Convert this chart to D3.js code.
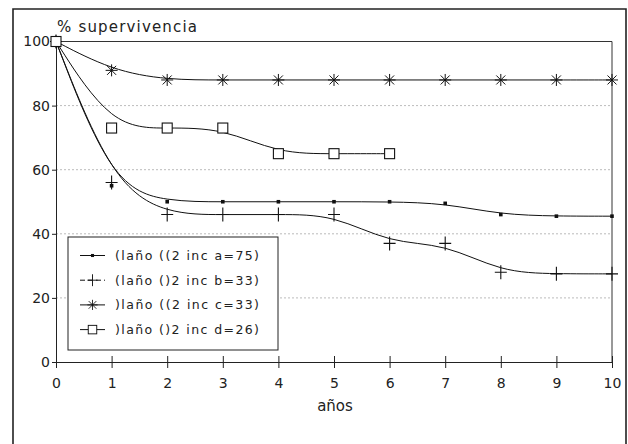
<!DOCTYPE html>
<html>
<head>
<meta charset="utf-8">
<script src="https://cdn.jsdelivr.net/npm/d3@7"></script>
<style>
  body { margin: 0; background: #fff; }
  svg { display: block; }
  text { font-family: "DejaVu Sans", sans-serif; fill: #222; }
</style>
</head>
<body>
<div class="main"></div>
<script>
const years = [0, 1, 2, 3, 4, 5, 6, 7, 8, 9, 10];
const serieA = [100, 55, 50, 50, 50, 50, 50, 49.5, 46, 45.5, 45.5];
const serieB = [100, 56, 46, 46, 46, 46, 37, 37, 28, 27.5, 27.5];
const serieC = [100, 91, 88, 88, 88, 88, 88, 88, 88, 88, 88];
const serieD = [100, 73, 73, 73, 65, 65, 65];
const legendLabels = [
    "(laño ((2 inc a=75)",
    "(laño ()2 inc b=33)",
    ")laño ((2 inc c=33)",
    ")laño ()2 inc d=26)"
];
const yTicks = [0, 20, 40, 60, 80, 100];
const yTitle = "% supervivencia";
const xTitle = "años";

const w = 628;
const h = 444;

const svg = d3.select(".main").append("svg").attr("width", w).attr("height", h);

// outer frame (open at the bottom)
svg.append("path")
    .attr("d", "M13,444V9H626V444")
    .attr("fill", "none")
    .attr("stroke", "#222")
    .attr("stroke-width", 1.6);

const xScale = d3.scaleLinear().domain([0, 10]).range([56, 612]);
const yScale = d3.scaleLinear().domain([0, 100]).range([362, 41.5]);

// grid lines
svg.append("g")
    .selectAll("line")
    .data(yTicks.filter((d) => d > 0 && d < 100))
    .join("line")
    .attr("x1", xScale(0))
    .attr("x2", xScale(10))
    .attr("y1", (d) => yScale(d))
    .attr("y2", (d) => yScale(d))
    .attr("stroke", "#aaa")
    .attr("stroke-width", 0.8)
    .attr("stroke-dasharray", "2,2");

// top and right of the plot box
svg.append("path")
    .attr("d", `M${xScale(0)},${yScale(100)}H${xScale(10)}V${yScale(0)}`)
    .attr("fill", "none")
    .attr("stroke", "#333")
    .attr("stroke-width", 1);

// axes
const yAxis = d3.axisLeft(yScale).tickValues(yTicks).tickSizeInner(4).tickSizeOuter(0).tickPadding(2);
const gy = svg.append("g").attr("transform", `translate(${xScale(0)},0)`).call(yAxis);
gy.selectAll("text").style("font-size", "14px").style("font-family", "DejaVu Sans").attr("fill", "#444");
gy.selectAll("path, line").attr("stroke", "#222");

const xAxis = d3.axisBottom(xScale).tickValues(years).tickSizeInner(6).tickSizeOuter(0).tickFormat(d3.format("d"));
const gx = svg.append("g").attr("transform", `translate(0,${yScale(0)})`).call(xAxis);
gx.selectAll(".tick line").attr("y1", -6).attr("stroke", "#222");
gx.select(".domain").attr("stroke", "#222");
gx.selectAll("text").attr("y", 16).style("font-size", "14px").style("font-family", "DejaVu Sans").attr("fill", "#444");

svg.append("text")
    .attr("x", 57)
    .attr("y", 32)
    .attr("textLength", 140)
    .attr("lengthAdjust", "spacing")
    .style("font-size", "15px")
    .text(yTitle);

svg.append("text")
    .attr("x", 335)
    .attr("y", 411)
    .attr("text-anchor", "middle")
    .style("font-size", "15px")
    .text(xTitle);

// curves
const line = d3.line()
    .x((d, i) => xScale(years[i]))
    .y((d) => yScale(d))
    .curve(d3.curveBasis);

const series = [serieA, serieB, serieC, serieD];
svg.append("g")
    .selectAll("path")
    .data(series)
    .join("path")
    .attr("d", (d) => line(d))
    .attr("fill", "none")
    .attr("stroke", "#111")
    .attr("stroke-width", 1);

// marker shapes
const markers = [
    (g) => g.append("rect").attr("x", -1.8).attr("y", -1.8).attr("width", 3.6).attr("height", 3.6).attr("fill", "#111"),
    (g) => g.append("path").attr("d", "M-6,0H6M0,-7V7").attr("stroke", "#111").attr("stroke-width", 1.1),
    (g) => g.append("path").attr("d", "M-6,0H6M0,-6V6M-4.5,-4.5L4.5,4.5M-4.5,4.5L4.5,-4.5").attr("stroke", "#111").attr("stroke-width", 1),
    (g) => g.append("rect").attr("x", -5).attr("y", -5).attr("width", 10).attr("height", 10).attr("fill", "#fff").attr("stroke", "#111").attr("stroke-width", 1.1)
];

series.forEach((s, k) => {
    s.forEach((v, i) => {
        const g = svg.append("g").attr("transform", `translate(${xScale(years[i])},${yScale(v)})`);
        markers[k](g);
    });
});

// legend
const legend = svg.append("g").attr("id", "legend");
legend.append("rect")
    .attr("x", 68)
    .attr("y", 237)
    .attr("width", 210)
    .attr("height", 113)
    .attr("fill", "#fff")
    .attr("stroke", "#222")
    .attr("stroke-width", 1);

legendLabels.forEach((lab, k) => {
    const y = 255.5 + k * 24.7;
    const item = legend.append("g");
    item.append("line")
        .attr("x1", 80).attr("x2", 105)
        .attr("y1", y).attr("y2", y)
        .attr("stroke", "#111")
        .attr("stroke-width", 1)
        .attr("stroke-dasharray", k === 1 ? "5,3" : null);
    markers[k](item.append("g").attr("transform", `translate(92.5,${y}) scale(0.85)`));
    item.append("text")
        .attr("x", 115)
        .attr("y", y)
        .attr("dy", "0.36em")
        .attr("textLength", 144)
        .attr("lengthAdjust", "spacing")
        .style("font-size", "12.5px")
        .text(lab);
});
</script>
</body>
</html>
